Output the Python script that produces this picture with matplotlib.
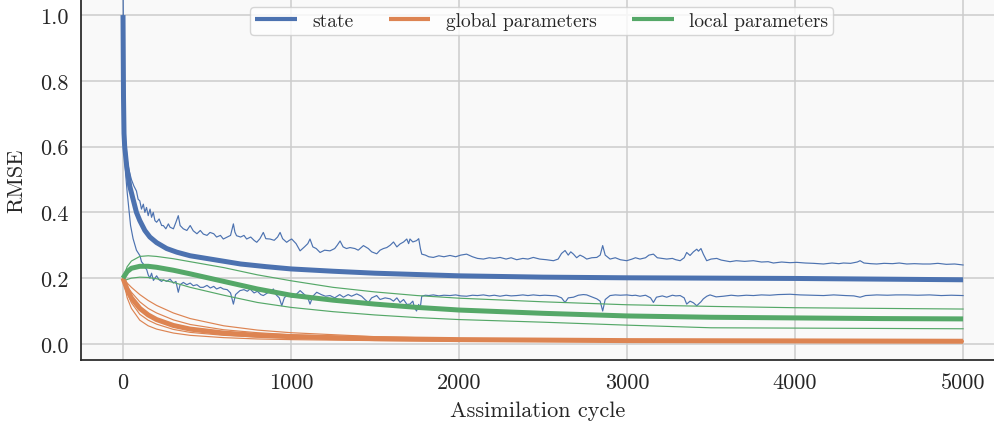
import matplotlib
matplotlib.use("Agg")
import matplotlib.pyplot as plt
import numpy as np

plt.rcParams['font.family'] = ['cmr10', 'DejaVu Serif']
plt.rcParams['axes.formatter.use_mathtext'] = True
plt.rcParams['mathtext.fontset'] = 'cm'

C_BLUE = '#4C72B0'
C_ORANGE = '#DD8452'
C_GREEN = '#55A868'

# ---- state (blue) ----
state_mean_x = [0, 3, 6, 10, 22, 40, 60, 80, 100, 130, 160, 200, 260, 320, 400, 520, 700, 850,
                1000, 1250, 1500, 1750, 2000, 2500, 3000, 3500, 4000, 4500, 5000]
state_mean_y = [1.0, 0.75, 0.64, 0.6, 0.54, 0.48, 0.44, 0.40, 0.375, 0.345, 0.325, 0.308, 0.29,
                0.279, 0.268, 0.258, 0.243, 0.235, 0.228, 0.221, 0.215, 0.211, 0.207, 0.203,
                0.201, 0.2, 0.199, 0.197, 0.195]

state_upper = [
    (0, 1.12), (4, 0.85), (8, 0.72), (15, 0.62), (25, 0.56), (35, 0.53), (50, 0.50), (65, 0.48),
    (80, 0.465), (90, 0.44), (100, 0.435), (110, 0.41), (121, 0.425), (130, 0.40), (140, 0.415),
    (150, 0.39), (161, 0.41), (170, 0.385), (180, 0.40), (190, 0.375), (200, 0.37), (215, 0.38),
    (230, 0.36), (240, 0.36), (255, 0.35), (270, 0.365), (280, 0.355), (300, 0.35), (315, 0.37),
    (329, 0.39), (340, 0.36), (359, 0.35), (380, 0.345), (400, 0.36), (418, 0.344), (440, 0.335),
    (460, 0.345), (478, 0.334), (500, 0.33), (518, 0.339), (540, 0.335), (557, 0.325), (580, 0.33),
    (597, 0.319), (620, 0.325), (640, 0.33), (657, 0.365), (666, 0.34), (676, 0.329), (700, 0.325),
    (720, 0.33), (736, 0.319), (760, 0.325), (780, 0.315), (796, 0.309), (815, 0.32), (835, 0.339),
    (850, 0.32), (875, 0.319), (900, 0.315), (920, 0.325), (935, 0.339), (950, 0.32), (974, 0.309),
    (990, 0.315), (1004, 0.319), (1030, 0.305), (1054, 0.283), (1080, 0.295), (1100, 0.305),
    (1113, 0.319), (1130, 0.295), (1150, 0.29), (1173, 0.278), (1200, 0.285), (1232, 0.283),
    (1260, 0.29), (1275, 0.3), (1292, 0.313), (1310, 0.295), (1330, 0.29), (1351, 0.293),
    (1380, 0.29), (1400, 0.285), (1431, 0.299), (1460, 0.29), (1480, 0.28), (1510, 0.274),
    (1530, 0.285), (1550, 0.29), (1570, 0.293), (1590, 0.3), (1610, 0.31), (1630, 0.295),
    (1649, 0.304), (1670, 0.31), (1689, 0.319), (1700, 0.305), (1708, 0.319), (1725, 0.31),
    (1747, 0.314), (1760, 0.32), (1770, 0.29), (1778, 0.273), (1800, 0.27), (1820, 0.265),
    (1847, 0.263), (1880, 0.268), (1910, 0.265), (1946, 0.269), (1980, 0.265), (2010, 0.27),
    (2045, 0.273), (2080, 0.265), (2110, 0.26), (2145, 0.258), (2180, 0.262), (2210, 0.26),
    (2244, 0.263), (2280, 0.258), (2310, 0.262), (2343, 0.256), (2380, 0.26), (2410, 0.258),
    (2442, 0.263), (2480, 0.258), (2520, 0.256), (2562, 0.253), (2590, 0.258), (2610, 0.275),
    (2631, 0.284), (2650, 0.27), (2665, 0.28), (2681, 0.273), (2700, 0.262), (2720, 0.27),
    (2740, 0.265), (2760, 0.258), (2790, 0.262), (2820, 0.263), (2840, 0.27), (2855, 0.299),
    (2870, 0.27), (2899, 0.258), (2930, 0.262), (2960, 0.256), (2998, 0.253), (3030, 0.258),
    (3050, 0.262), (3077, 0.258), (3110, 0.262), (3130, 0.27), (3157, 0.273), (3180, 0.262),
    (3210, 0.26), (3236, 0.258), (3270, 0.26), (3290, 0.256), (3316, 0.253), (3340, 0.262),
    (3355, 0.278), (3375, 0.269), (3395, 0.28), (3415, 0.288), (3425, 0.282), (3440, 0.29),
    (3454, 0.273), (3474, 0.253), (3500, 0.258), (3534, 0.26), (3560, 0.255), (3590, 0.252),
    (3613, 0.25), (3650, 0.253), (3700, 0.251), (3752, 0.253), (3800, 0.249), (3840, 0.25),
    (3871, 0.246), (3920, 0.249), (3970, 0.247), (4010, 0.248), (4060, 0.246), (4110, 0.245),
    (4169, 0.243), (4220, 0.246), (4260, 0.244), (4288, 0.246), (4330, 0.245), (4370, 0.249),
    (4387, 0.253), (4410, 0.246), (4450, 0.244), (4486, 0.243), (4530, 0.245), (4580, 0.244),
    (4620, 0.246), (4665, 0.243), (4710, 0.244), (4760, 0.243), (4804, 0.243), (4850, 0.245),
    (4900, 0.242), (4950, 0.243), (5000, 0.240)]

state_lower = [
    (0, 1.0), (4, 0.72), (8, 0.6), (15, 0.52), (25, 0.46), (35, 0.41), (45, 0.36), (60, 0.32),
    (80, 0.285), (101, 0.268), (110, 0.25), (121, 0.243), (131, 0.232), (141, 0.226), (150, 0.21),
    (160, 0.2), (170, 0.215), (181, 0.193), (190, 0.2), (200, 0.207), (215, 0.195), (230, 0.19),
    (240, 0.195), (260, 0.19), (280, 0.197), (300, 0.185), (315, 0.19), (329, 0.157), (340, 0.18),
    (359, 0.187), (380, 0.18), (400, 0.185), (418, 0.177), (440, 0.18), (460, 0.172), (478, 0.172),
    (500, 0.178), (520, 0.17), (540, 0.175), (557, 0.167), (580, 0.172), (597, 0.167), (620, 0.165),
    (640, 0.155), (657, 0.121), (670, 0.15), (696, 0.162), (720, 0.165), (740, 0.16), (756, 0.167),
    (780, 0.155), (800, 0.16), (820, 0.15), (835, 0.147), (860, 0.155), (880, 0.16), (895, 0.167),
    (910, 0.15), (930, 0.14), (945, 0.116), (960, 0.14), (980, 0.15), (1004, 0.142), (1030, 0.15),
    (1054, 0.162), (1080, 0.15), (1100, 0.14), (1113, 0.121), (1130, 0.145), (1153, 0.157),
    (1180, 0.15), (1205, 0.145), (1232, 0.147), (1260, 0.14), (1290, 0.15), (1312, 0.142),
    (1340, 0.15), (1360, 0.145), (1391, 0.152), (1420, 0.145), (1440, 0.135), (1460, 0.126),
    (1480, 0.14), (1510, 0.147), (1530, 0.135), (1560, 0.14), (1590, 0.137), (1610, 0.13),
    (1630, 0.14), (1649, 0.126), (1670, 0.135), (1690, 0.12), (1708, 0.121), (1725, 0.13),
    (1735, 0.11), (1747, 0.10), (1760, 0.12), (1768, 0.105), (1778, 0.145), (1800, 0.148),
    (1820, 0.147), (1847, 0.149), (1880, 0.146), (1910, 0.148), (1946, 0.147), (1980, 0.149),
    (2010, 0.146), (2045, 0.145), (2080, 0.148), (2110, 0.147), (2145, 0.149), (2180, 0.146),
    (2210, 0.148), (2244, 0.145), (2280, 0.148), (2310, 0.146), (2343, 0.147), (2380, 0.149),
    (2410, 0.147), (2442, 0.149), (2480, 0.147), (2510, 0.148), (2542, 0.147), (2580, 0.146),
    (2610, 0.14), (2631, 0.126), (2650, 0.14), (2681, 0.142), (2710, 0.148), (2740, 0.15),
    (2760, 0.149), (2790, 0.143), (2820, 0.137), (2840, 0.13), (2855, 0.10), (2870, 0.135),
    (2899, 0.147), (2930, 0.149), (2960, 0.148), (2998, 0.149), (3030, 0.147), (3050, 0.148),
    (3077, 0.145), (3110, 0.148), (3140, 0.14), (3157, 0.126), (3175, 0.142), (3210, 0.146),
    (3236, 0.142), (3270, 0.148), (3290, 0.146), (3316, 0.147), (3340, 0.14), (3355, 0.121),
    (3375, 0.13), (3395, 0.125), (3415, 0.116), (3425, 0.121), (3440, 0.128), (3454, 0.137),
    (3475, 0.145), (3494, 0.149), (3530, 0.143), (3574, 0.145), (3620, 0.148), (3660, 0.146),
    (3710, 0.148), (3752, 0.147), (3800, 0.149), (3850, 0.148), (3900, 0.15), (3970, 0.151),
    (4030, 0.149), (4100, 0.148), (4169, 0.147), (4230, 0.149), (4300, 0.147), (4350, 0.146),
    (4387, 0.142), (4420, 0.147), (4486, 0.149), (4550, 0.148), (4600, 0.149), (4665, 0.149),
    (4730, 0.148), (4800, 0.149), (4870, 0.147), (4930, 0.148), (5000, 0.147)]

# ---- global parameters (orange) ----
glob_x = [0, 25, 50, 100, 150, 200, 300, 400, 600, 800, 1000, 1500, 2000, 3000, 4000, 5000]
glob_mean = [0.2, 0.165, 0.14, 0.108, 0.088, 0.074, 0.056, 0.045, 0.033, 0.026, 0.022, 0.016,
             0.013, 0.010, 0.009, 0.008]
glob_up1 = [0.2, 0.185, 0.172, 0.15, 0.132, 0.117, 0.094, 0.077, 0.055, 0.042, 0.034, 0.022,
            0.016, 0.012, 0.010, 0.009]
glob_up2 = [0.2, 0.175, 0.157, 0.128, 0.108, 0.094, 0.073, 0.059, 0.043, 0.034, 0.028, 0.019,
            0.015, 0.011, 0.0095, 0.0085]
glob_lo1 = [0.2, 0.155, 0.125, 0.09, 0.072, 0.06, 0.044, 0.035, 0.026, 0.021, 0.018, 0.013,
            0.011, 0.009, 0.008, 0.007]
glob_lo2 = [0.2, 0.14, 0.108, 0.072, 0.055, 0.045, 0.033, 0.026, 0.019, 0.015, 0.013, 0.010,
            0.008, 0.007, 0.006, 0.006]

# ---- local parameters (green) ----
loc_x = [0, 25, 50, 100, 150, 200, 300, 400, 600, 800, 1000, 1250, 1500, 1750, 2000, 2500,
         3000, 3500, 4000, 4500, 5000]
loc_mean = [0.2, 0.22, 0.23, 0.236, 0.236, 0.233, 0.224, 0.213, 0.19, 0.167, 0.148, 0.133,
            0.121, 0.111, 0.103, 0.093, 0.085, 0.081, 0.079, 0.077, 0.076]
loc_up = [0.2, 0.235, 0.252, 0.266, 0.268, 0.266, 0.259, 0.25, 0.232, 0.21, 0.192, 0.172,
          0.158, 0.147, 0.139, 0.128, 0.119, 0.114, 0.110, 0.108, 0.106]
loc_lo = [0.19, 0.196, 0.2, 0.203, 0.202, 0.198, 0.187, 0.172, 0.148, 0.126, 0.111, 0.098,
          0.088, 0.08, 0.074, 0.066, 0.057, 0.049, 0.048, 0.047, 0.046]

x_ticks = [0, 1000, 2000, 3000, 4000, 5000]
y_ticks = [0.0, 0.2, 0.4, 0.6, 0.8, 1.0]

fig = plt.figure(figsize=(9.95, 4.27), dpi=100)
ax = fig.add_axes([81 / 995, 66 / 427, 914 / 995, 361 / 427])
ax.set_facecolor('#f9f9f9')

THIN = 0.85
THICK = 3.6

ux, uy = zip(*state_upper)
lx, ly = zip(*state_lower)
ax.plot(ux, uy, color=C_BLUE, lw=THIN)
ax.plot(lx, ly, color=C_BLUE, lw=THIN)

for s in (glob_up1, glob_up2, glob_lo1, glob_lo2):
    ax.plot(glob_x, s, color=C_ORANGE, lw=THIN)
for s in (loc_up, loc_lo):
    ax.plot(loc_x, s, color=C_GREEN, lw=THIN)

ax.plot(state_mean_x, state_mean_y, color=C_BLUE, lw=THICK, label='state',
        solid_capstyle='butt')
ax.plot(glob_x, glob_mean, color=C_ORANGE, lw=THICK, label='global parameters',
        solid_capstyle='butt')
ax.plot(loc_x, loc_mean, color=C_GREEN, lw=THICK, label='local parameters',
        solid_capstyle='butt')

ax.set_xlim(-250, 5190)
ax.set_ylim(-0.049, 1.049)
ax.set_xticks(x_ticks)
ax.set_yticks(y_ticks)
ax.set_yticklabels([f'{v:.1f}' for v in y_ticks])
ax.set_xticklabels([str(v) for v in x_ticks])
ax.tick_params(length=0, labelsize=16, pad=9, colors='#262626')
ax.grid(True, color='#cccccc', lw=1.1)
ax.set_axisbelow(True)
for side in ('top', 'right'):
    ax.spines[side].set_visible(False)
for side in ('left', 'bottom'):
    ax.spines[side].set_color('#262626')
    ax.spines[side].set_linewidth(1.25)

ax.set_xlabel('Assimilation cycle', fontsize=16, color='#262626', labelpad=6)
ax.set_ylabel('RMSE', fontsize=16, color='#262626', labelpad=10)

leg = ax.legend(loc='upper center', bbox_to_anchor=(0.504, 1.0), ncol=3, fontsize=14,
                frameon=True, fancybox=True, edgecolor='#cccccc', facecolor='white',
                framealpha=0.8, handlelength=2.15, handletextpad=0.8, columnspacing=1.8,
                borderpad=0.25, borderaxespad=0.43)
for t in leg.get_texts():
    t.set_color('#262626')
for h in leg.get_lines():
    h.set_linewidth(3.0)

fig.savefig('out.png', dpi=100)
